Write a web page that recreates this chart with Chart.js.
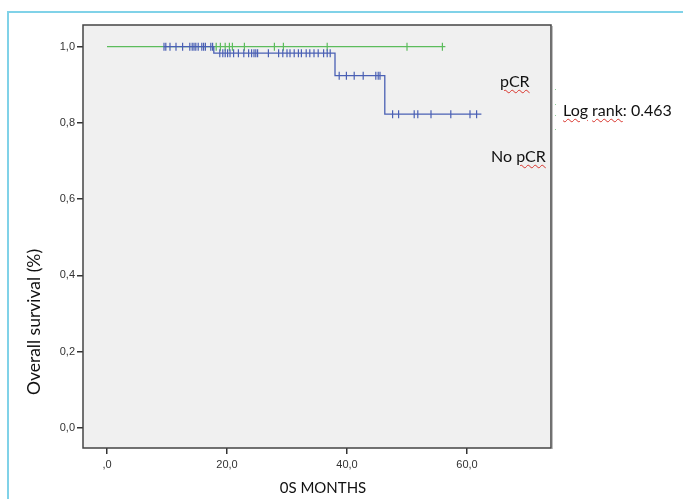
<!DOCTYPE html>
<html>
<head>
<meta charset="utf-8">
<script src="https://cdn.jsdelivr.net/npm/chart.js@4.4.1/dist/chart.umd.min.js"></script>
<style>
  body { margin: 0; background: #fff; }
  #wrap { position: relative; width: 683px; height: 499px; overflow: hidden; }
  #frame { position: absolute; left: 7px; top: 11px; right: -4px; bottom: -4px;
           border-top: 2px solid #80d2e8; border-left: 2px solid #80d2e8; }
  .lbl { position: absolute; font-family: Lato, "Open Sans", sans-serif; font-size: 16px;
         color: #111; white-space: nowrap; line-height: 18px; }
  .sp { text-decoration: underline wavy #d8342c; text-decoration-thickness: 1px;
        text-underline-offset: 2px; }
  .dot { position: absolute; width: 1px; height: 1px; background: #8fcf9a; }
</style>
</head>
<body>
<div id="wrap">
  <div id="frame"></div>
  <canvas id="km" width="683" height="499"></canvas>
  <div class="lbl" style="left:500px; top:72px;"><span class="sp">pCR</span></div>
  <div class="lbl" style="left:491px; top:147px;">No <span class="sp">pCR</span></div>
  <div class="lbl" style="left:563px; top:101px;"><span class="sp">Log</span> <span class="sp">rank</span>: 0.463</div>
  <div class="dot" style="left:555px; top:89px;"></div>
  <div class="dot" style="left:555px; top:104px;"></div>
  <div class="dot" style="left:555px; top:115px;"></div>
  <div class="dot" style="left:555px; top:129px;"></div>
  <div class="lbl" style="left:323px; top:487px; font-size:15px; transform:translate(-50%,-50%);">0S MONTHS</div>
  <div class="lbl" style="left:34px; top:322px; font-size:17.5px; transform:translate(-50%,-50%) rotate(-90deg);">Overall survival (%)</div>
</div>
<script>
/* data */
const xTicks = [0, 20, 40, 60];
const xTickLabels = [",0", "20,0", "40,0", "60,0"];
const yTicks = [0, 0.2, 0.4, 0.6, 0.8, 1.0];
const yTickLabels = ["0,0", "0,2", "0,4", "0,6", "0,8", "1,0"];

// pCR group (green)
const pcrTimes = [0, 56.4];
const pcrSurv = [1, 1];
const pcrCensor = [18.2, 18.9, 19.7, 20.4, 20.9, 22.9, 27.9, 29.4, 36.7, 50.0, 55.9];

// No pCR group (blue)
const noPcrTimes = [9.5, 17.8, 38.0, 46.3, 62.4];
const noPcrSurv = [1, 0.983, 0.924, 0.823, 0.823];
const noPcrCensor = [9.5, 9.8, 10.5, 11.5, 12.6, 13.8, 14.2, 14.5, 14.8, 15.2, 15.8, 16.1, 16.4,
  17.3, 17.6, 18.8, 19.3, 19.7, 20.1, 20.5, 21.1, 21.9, 22.8, 23.6, 24.1, 24.5, 24.8, 25.1,
  26.9, 28.6, 29.3, 30.0, 30.5, 31.2, 31.9, 32.4, 33.2, 33.8, 34.5, 35.2, 36.1, 36.7, 37.2,
  38.7, 39.9, 41.2, 42.7, 44.8, 45.2, 45.5, 47.6, 48.6, 51.2, 51.8, 54.0, 57.3, 60.5, 61.6];

const GREEN = "#5cbc5c";
const BLUE = "#4a60b4";

// survival value of a step curve at time t
function survAt(times, surv, t) {
  let s = surv[0];
  times.forEach((tt, i) => { if (tt <= t) s = surv[i]; });
  return s;
}

const curve = (times, surv) => times.map((t, i) => ({ x: t, y: surv[i] }));
const marks = (cens, times, surv) => cens.map(t => ({ x: t, y: survAt(times, surv, t) }));

/* plot background + box */
const boxPlugin = {
  id: "box",
  beforeDatasetsDraw(chart) {
    const { ctx, chartArea: a } = chart;
    ctx.save();
    ctx.fillStyle = "#f0f0f0";
    ctx.fillRect(a.left, a.top, a.right - a.left, a.bottom - a.top);
    ctx.restore();
  },
  afterDraw(chart) {
    const { ctx, chartArea: a } = chart;
    ctx.save();
    ctx.strokeStyle = "#444";
    ctx.lineWidth = 1.5;
    ctx.strokeRect(a.left, a.top, a.right - a.left, a.bottom - a.top);
    ctx.strokeStyle = "rgba(0,0,0,0.25)";
    ctx.lineWidth = 1;
    ctx.beginPath();
    ctx.moveTo(a.right + 1.5, a.top + 1);
    ctx.lineTo(a.right + 1.5, a.bottom + 1);
    ctx.stroke();
    ctx.restore();
  }
};

const tickFont = { family: "'Liberation Sans', Arial, sans-serif", size: 11 };

new Chart(document.getElementById("km"), {
  type: "scatter",
  data: {
    datasets: [
      { label: "pCR", data: curve(pcrTimes, pcrSurv), showLine: true, stepped: true,
        borderColor: GREEN, borderWidth: 1.3, pointRadius: 0, order: 4 },
      { label: "pCR censored", data: marks(pcrCensor, pcrTimes, pcrSurv),
        pointStyle: "line", rotation: 90, pointRadius: 4, borderColor: GREEN,
        borderWidth: 1.2, order: 3 },
      { label: "No pCR", data: curve(noPcrTimes, noPcrSurv), showLine: true, stepped: true,
        borderColor: BLUE, borderWidth: 1.3, pointRadius: 0, order: 2 },
      { label: "No pCR censored", data: marks(noPcrCensor, noPcrTimes, noPcrSurv),
        pointStyle: "line", rotation: 90, pointRadius: 4, borderColor: BLUE,
        borderWidth: 1.2, order: 1 }
    ]
  },
  options: {
    responsive: false,
    animation: false,
    layout: { padding: { top: 25, right: 132, left: 0, bottom: 0 } },
    plugins: { legend: { display: false }, tooltip: { enabled: false } },
    scales: {
      x: {
        type: "linear", min: -4, max: 74,
        afterBuildTicks: s => { s.ticks = xTicks.map(v => ({ value: v })); },
        afterFit: s => { s.height = 51; },
        ticks: {
          font: tickFont, color: "#333", padding: 4, maxRotation: 0,
          callback: v => xTickLabels[xTicks.indexOf(v)]
        },
        grid: { drawOnChartArea: false, drawTicks: true, tickLength: 6, color: "#333", lineWidth: 1.5 },
        border: { display: false }
      },
      y: {
        type: "linear", min: -0.053, max: 1.057,
        afterBuildTicks: s => { s.ticks = yTicks.map(v => ({ value: v })); },
        afterFit: s => { s.width = 83; },
        ticks: {
          font: tickFont, color: "#333", padding: 2,
          callback: v => yTickLabels[yTicks.findIndex(t => Math.abs(t - v) < 1e-6)]
        },
        grid: { drawOnChartArea: false, drawTicks: true, tickLength: 6, color: "#333", lineWidth: 1.5 },
        border: { display: false }
      }
    }
  },
  plugins: [boxPlugin]
});
</script>
</body>
</html>
